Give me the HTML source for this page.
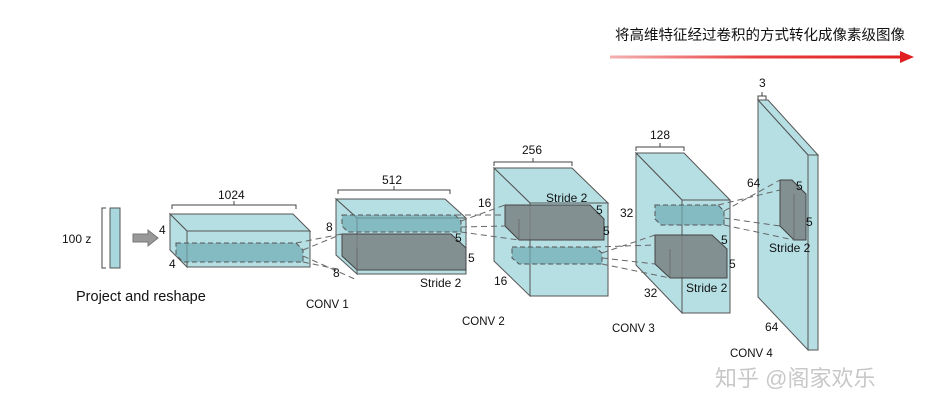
<!DOCTYPE html>
<html><head><meta charset="utf-8"><style>
html,body{margin:0;padding:0;background:#fff;}
svg{display:block;font-family:"Liberation Sans","Noto Sans CJK SC",sans-serif;}
</style></head><body>
<svg width="940" height="412" viewBox="0 0 940 412" xmlns="http://www.w3.org/2000/svg">
<defs>
<linearGradient id="rg" x1="0" x2="1"><stop offset="0" stop-color="#f4b0b0"/><stop offset="0.5" stop-color="#e84040"/><stop offset="1" stop-color="#e02020"/></linearGradient>
</defs>
<text x="615" y="40" font-size="14.5" fill="#111">将高维特征经过卷积的方式转化成像素级图像</text>
<rect x="610" y="55.5" width="292" height="3" fill="url(#rg)"/>
<polygon points="900,51 914,57 900,63" fill="#e02020"/>

<!-- input -->
<rect x="110" y="208" width="10" height="60" fill="#a8d8de" stroke="#555" stroke-width="1"/>
<path d="M106,208 L102,208 L102,268 L106,268" fill="none" stroke="#444"/>
<text x="62" y="243" font-size="12" fill="#111">100 z</text>
<polygon points="133,234 148,234 148,230 158,238 148,246 148,242 133,242" fill="#999" stroke="#777"/>
<text x="76" y="301" font-size="14.5" fill="#111">Project and reshape</text>

<g stroke="#555" stroke-width="1" fill="#a9d9df" fill-opacity="0.85">
<!-- box1 -->
<polygon points="170,214 293,214 310,231 187,231"/>
<polygon points="170,214 187,231 187,267 170,250"/>
<rect x="187" y="231" width="123" height="36"/>
<!-- box2 -->
<polygon points="336,199 445,199 466,218 357,218"/>
<polygon points="336,199 357,218 357,274 336,255"/>
<rect x="357" y="218" width="109" height="56"/>
<!-- box3 -->
<polygon points="494,168 572,168 608,203 530,203"/>
<polygon points="494,168 530,203 530,296 494,261"/>
<rect x="530" y="203" width="78" height="93"/>
<!-- box4 -->
<polygon points="636,153 684,153 730,200 682,200"/>
<polygon points="636,153 682,200 682,313 636,265"/>
<rect x="682" y="200" width="48" height="113"/>
<!-- plane -->
<polygon points="758,100 768,100 818,155 808,155"/>
<polygon points="758,100 808,155 808,350 758,297"/>
<rect x="808" y="155" width="10" height="195"/>
</g>

<!-- kernels -->
<g stroke="#555" stroke-dasharray="5,3" fill="#6fa9b3" fill-opacity="0.7">
<polygon points="176,243 296,243 303,250 303,262 183,262 176,255"/>
<polygon points="342,215 455,215 461,221 461,232 348,232 342,226"/>
<polygon points="512,247 595,247 602,253 602,264 519,264 512,258"/>
<polygon points="655,205 718,205 724,211 724,225 661,225 655,219"/>
</g>
<g stroke="#444" fill="#7a8384" fill-opacity="0.85">
<polygon points="342,234 451,234 466,248 466,270 357,270 342,256"/>
<polygon points="505,205 590,205 604,219 604,240 519,240 505,226"/>
<polygon points="655,235 712,235 727,249 727,278 670,278 655,264"/>
<polygon points="780,180 792,180 806,194 806,240 794,240 780,226"/>
</g>
<g stroke="#666" fill="none" stroke-width="0.8">
<line x1="357" y1="248" x2="357" y2="270"/><line x1="519" y1="219" x2="519" y2="240"/><line x1="670" y1="249" x2="670" y2="278"/><line x1="794" y1="194" x2="794" y2="240"/>
</g>

<!-- dashed connectors -->
<g stroke="#666" stroke-dasharray="6,4" stroke-width="1" fill="none">
<line x1="303" y1="250" x2="342" y2="234"/><line x1="303" y1="262" x2="342" y2="270"/>
<line x1="296" y1="243" x2="342" y2="234"/><line x1="303" y1="256" x2="357" y2="280"/>
<line x1="461" y1="221" x2="505" y2="205"/><line x1="461" y1="232" x2="519" y2="240"/>
<line x1="455" y1="215" x2="505" y2="215"/><line x1="461" y1="227" x2="505" y2="226"/>
<line x1="602" y1="253" x2="655" y2="235"/><line x1="602" y1="264" x2="670" y2="278"/>
<line x1="595" y1="247" x2="655" y2="245"/><line x1="602" y1="258" x2="655" y2="264"/>
<line x1="724" y1="211" x2="780" y2="180"/><line x1="724" y1="225" x2="794" y2="240"/>
<line x1="718" y1="205" x2="780" y2="190"/><line x1="724" y1="218" x2="780" y2="226"/>
</g>

<!-- brackets -->
<g stroke="#444" fill="none">
<path d="M172,209 L172,205 L296,205 L296,209 M234,205 L234,201"/>
<path d="M338,194 L338,190 L450,190 L450,194 M394,190 L394,186"/>
<path d="M494,166 L494,162 L572,162 L572,166 M533,162 L533,158"/>
<path d="M636,151 L636,147 L684,147 L684,151 M660,147 L660,143"/>
<path d="M758,100 L758,96 L766,96 L766,100 M762,96 L762,92"/>
</g>

<g font-size="12" fill="#111">
<text x="218" y="199">1024</text>
<text x="382" y="184">512</text>
<text x="522" y="154">256</text>
<text x="650" y="139">128</text>
<text x="759" y="87">3</text>
<text x="159" y="234">4</text><text x="169" y="268">4</text>
<text x="326" y="231">8</text><text x="333" y="277">8</text>
<text x="455" y="242">5</text><text x="468" y="262">5</text>
<text x="420" y="287">Stride 2</text>
<text x="478" y="207">16</text><text x="494" y="285">16</text>
<text x="546" y="202">Stride 2</text>
<text x="596" y="214">5</text><text x="603" y="235">5</text>
<text x="620" y="217">32</text><text x="644" y="297">32</text>
<text x="721" y="244">5</text><text x="729" y="268">5</text>
<text x="686" y="292">Stride 2</text>
<text x="747" y="187">64</text>
<text x="796" y="190">5</text><text x="806" y="226">5</text>
<text x="769" y="252">Stride 2</text>
<text x="765" y="331">64</text>
<text x="306" y="308" font-size="11.5">CONV 1</text>
<text x="462" y="325" font-size="11.5">CONV 2</text>
<text x="612" y="332" font-size="11.5">CONV 3</text>
<text x="730" y="357" font-size="11.5">CONV 4</text>
</g>
<text x="715" y="386" font-size="22" fill="#c8c8c8">知乎 @阁家欢乐</text>
</svg>
</body></html>
